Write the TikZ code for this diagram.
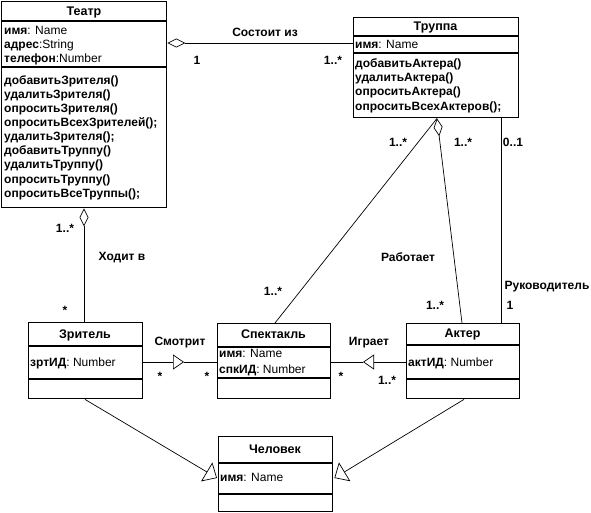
\documentclass[tikz,border=0pt]{standalone}
\usepackage{fontspec}
\setmainfont{Liberation Sans}
\usetikzlibrary{arrows.meta,calc}
\tikzset{
  cls/.style={draw, line width=1.4pt, anchor=north west, inner sep=0pt, fill=white},
  sepline/.style={line width=1.4pt},
  conn/.style={line width=0.7pt},
  lbl/.style={font=\fontsize{12}{14}\selectfont\bfseries, inner sep=0pt, anchor=base, yshift=-4.3pt},
  txt/.style={font=\fontsize{12}{14}\selectfont, inner sep=0pt, anchor=base west, yshift=-4.3pt},
  ttl/.style={font=\fontsize{12.5}{14}\selectfont\bfseries, inner sep=0pt, anchor=base, yshift=-4.5pt},
  diam/.style={line width=0.7pt, {Diamond[open,length=18pt,width=9pt]}-},
  gen/.style={line width=0.7pt, -{Triangle[open,length=11pt,width=15pt]}},
  genbig/.style={line width=0.7pt, -{Triangle[open,length=12pt,width=22pt]}},
}
\newcommand\umlbox[7]{%
  \node[cls, minimum width=#4pt, minimum height=#5pt] (#1) at (#2,#3) {};
  \draw[sepline] ($(#1.north west)+(0,#6)$) -- ($(#1.north east)+(0,#6)$);
  \draw[sepline] ($(#1.north west)+(0,#7)$) -- ($(#1.north east)+(0,#7)$);
}
\begin{document}
\begin{tikzpicture}[x=1pt,y=-1pt]
\useasboundingbox[fill=white] (0,0) rectangle (591,513);

\coordinate (smmid) at (184,362);
\coordinate (igmid) at (363,362);
\umlbox{teatr}{1}{1}{165}{206}{20}{66}
\umlbox{truppa}{353}{17}{165}{100}{19}{36}
\umlbox{zritel}{28}{322}{114}{76}{24}{57}
\umlbox{spekt}{217}{323}{113}{75}{24}{55}
\umlbox{akter}{406}{323}{113}{75}{22}{56}
\umlbox{chel}{218}{436}{114}{75}{27}{58}

% Состоит из
\draw[diam] ($(teatr.north east)+(0,42)$) -- ($(truppa.north west)+(0,26)$);
% Ходит в
\draw[diam] ($(teatr.south west)+(83,0)$) -- ($(zritel.north west)+(56,0)$);
% Работает
\draw[diam] ($(truppa.south west)+(84,0)$) -- ($(akter.north west)+(56,0)$);
\draw[conn] ($(truppa.south west)+(84,0)$) -- ($(spekt.north west)+(58,0)$);
% Руководитель
\draw[conn] ($(truppa.south west)+(148,0)$) -- ($(akter.north west)+(95,0)$);
% Смотрит
\draw[gen] ($(zritel.north east)+(0,40)$) -- (smmid);
\draw[conn] (smmid) -- ($(spekt.north west)+(0,39)$);
% Играет
\draw[gen] ($(akter.north west)+(0,39)$) -- (igmid);
\draw[conn] (igmid) -- ($(spekt.north east)+(0,39)$);
% generalisation to Человек
\draw[genbig] ($(zritel.south west)+(57,0)$) -- ($(chel.north west)+(-1,42)$);
\draw[genbig] ($(akter.south west)+(58,0)$) -- ($(chel.north east)+(1,42)$);

% ---------- class texts ----------
\node[ttl] (tt0) at (84,11) {Театр};
\node[txt] (tt1) at (4,30) {\textbf{имя}: Name};
\node[txt] (tt2) at (4,44) {\textbf{адрес}:String};
\node[txt] (tt3) at (4,58) {\textbf{телефон}:Number};
\node[txt] (tm1) at (4,80) {\textbf{добавитьЗрителя()}};
\node[txt] (tm2) at (4,94.1) {\textbf{удалитьЗрителя()}};
\node[txt] (tm3) at (4,108.2) {\textbf{опроситьЗрителя()}};
\node[txt] (tm4) at (4,122.3) {\textbf{опроситьВсехЗрителей();}};
\node[txt] (tm5) at (4,136.4) {\textbf{удалитьЗрителя();}};
\node[txt] (tm6) at (4,150.5) {\textbf{добавитьТруппу()}};
\node[txt] (tm7) at (4,164.6) {\textbf{удалитьТруппу()}};
\node[txt] (tm8) at (4,178.7) {\textbf{опроситьТруппу()}};
\node[txt] (tm9) at (4,192.8) {\textbf{опроситьВсеТруппы();}};

\node[ttl] (tr0) at (435.5,26) {Труппа};
\node[txt] (tr1) at (355,44) {\textbf{имя}: Name};
\node[txt] (tr2) at (355,63) {\textbf{добавитьАктера()}};
\node[txt] (tr3) at (355,77.3) {\textbf{удалитьАктера()}};
\node[txt] (tr4) at (355,91.6) {\textbf{опроситьАктера()}};
\node[txt] (tr5) at (355,105.9) {\textbf{опроситьВсехАктеров();}};

\node[ttl] (zr0) at (85,334) {Зритель};
\node[txt] (zr1) at (30,362) {\textbf{зртИД}: Number};

\node[ttl] (sp0) at (273.5,334) {Спектакль};
\node[txt] (sp1) at (219,353) {\textbf{имя}: Name};
\node[txt] (sp2) at (219,369) {\textbf{спкИД}: Number};

\node[ttl] (ak0) at (462.5,333) {Актер};
\node[txt] (ak1) at (408,362) {\textbf{актИД}: Number};

\node[ttl] (ch0) at (275,449) {Человек};
\node[txt] (ch1) at (220,477) {\textbf{имя}: Name};

% ---------- association labels ----------
\node[lbl] (l1) at (265,32) {Состоит из};
\node[lbl] (l2) at (197,60) {1};
\node[lbl] (l3) at (333,60) {1..*};
\node[lbl] (l4) at (65,228) {1..*};
\node[lbl] (l5) at (122,256) {Ходит в};
\node[lbl] (l6) at (65,310) {*};
\node[lbl] (l7) at (398,142) {1..*};
\node[lbl] (l8) at (463,142) {1..*};
\node[lbl] (l9) at (513,142) {0..1};
\node[lbl] (l10) at (408,257) {Работает};
\node[lbl] (l11) at (273,291) {1..*};
\node[lbl] (l12) at (435,305) {1..*};
\node[lbl] (l13) at (547,285) {Руководитель};
\node[lbl] (l14) at (510,305) {1};
\node[lbl] (l15) at (180,341) {Смотрит};
\node[lbl] (l16) at (160,376) {*};
\node[lbl] (l17) at (207,376) {*};
\node[lbl] (l18) at (369,341) {Играет};
\node[lbl] (l19) at (341,376) {*};
\node[lbl] (l20) at (387,380) {1..*};
\end{tikzpicture}
\end{document}
